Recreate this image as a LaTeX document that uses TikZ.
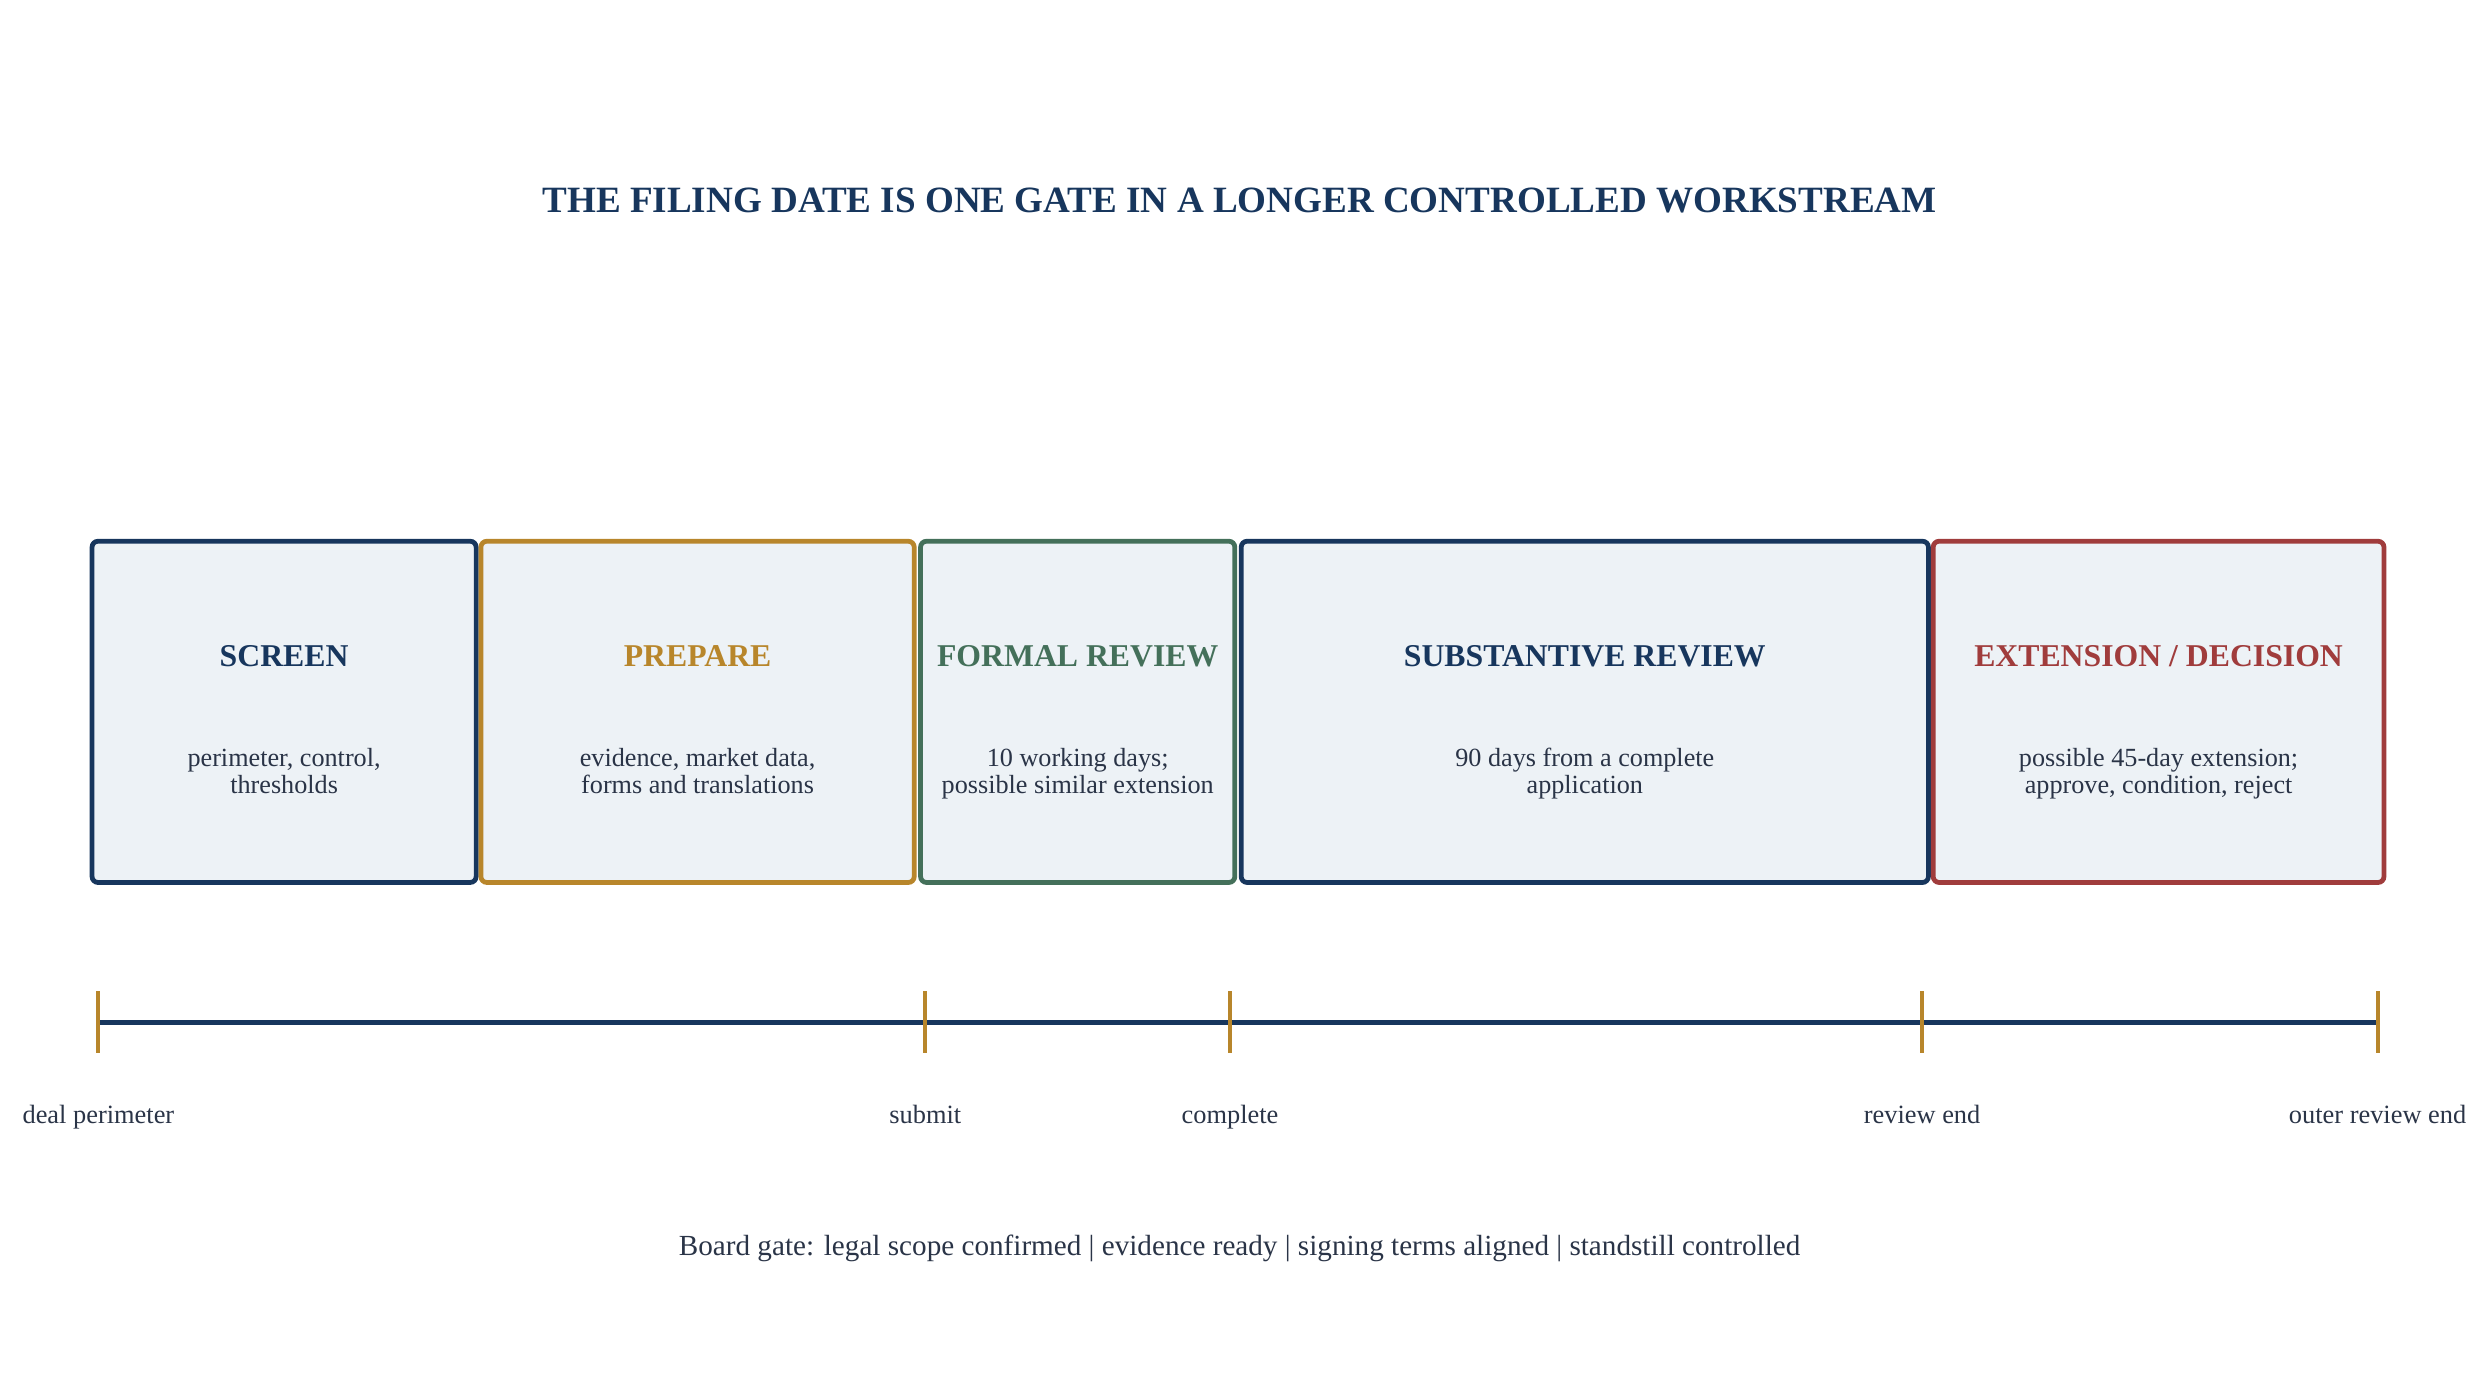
\documentclass[tikz,border=0pt]{standalone}
\usepackage{fontspec}
\setmainfont{Liberation Serif}
\definecolor{navy}{HTML}{17365D}
\definecolor{gold}{HTML}{B8862B}
\definecolor{sage}{HTML}{44705A}
\definecolor{brick}{HTML}{A03C3C}
\definecolor{paper}{HTML}{EDF2F6}
\definecolor{ink}{HTML}{2A3447}

\begin{document}
\begin{tikzpicture}[x=0.8pt,y=-0.8pt,
  phase/.style={draw=#1, line width=2.4pt, fill=paper, rounded corners=3pt},
  head/.style={text=#1, anchor=base, font=\fontsize{16}{19}\selectfont\bfseries},
  body/.style={text=ink, anchor=base, align=center, font=\fontsize{13.2}{13.6}\selectfont},
  gatelabel/.style={text=ink, anchor=base, font=\fontsize{13.3}{15}\selectfont}]

\useasboundingbox (0,0) rectangle (1560,873.3);

% title
\node[anchor=base, text=navy, font=\fontsize{18.7}{22}\selectfont\bfseries] (title) at (781,133.6)
  {THE FILING DATE IS ONE GATE IN A LONGER CONTROLLED WORKSTREAM};

% phases
\draw[phase=navy] (58,341) rectangle (300,556);
\draw[phase=gold] (303,341) rectangle (576,556);
\draw[phase=sage] (580,341) rectangle (778,556);
\draw[phase=navy] (782,341) rectangle (1215,556);
\draw[phase=brick] (1218,341) rectangle (1502,556);

\node[head=navy] (h1) at (179,419.7) {SCREEN};
\node[head=gold] (h2) at (439.5,419.7) {PREPARE};
\node[head=sage] (h3) at (679,419.7) {FORMAL REVIEW};
\node[head=navy] (h4) at (998.5,419.7) {SUBSTANTIVE REVIEW};
\node[head=brick] (h5) at (1360,419.7) {EXTENSION / DECISION};

% body text, base is the second line
\node[body] (b1) at (179,500) {perimeter, control,\\thresholds};
\node[body] (b2) at (439.5,500) {evidence, market data,\\forms and translations};
\node[body] (b3) at (679,500) {10 working days;\\possible similar extension};
\node[body] (b4) at (998.5,500) {90 days from a complete\\application};
\node[body] (b5) at (1360,500) {possible 45-day extension;\\approve, condition, reject};

% timeline
\coordinate (t0) at (62,644);
\coordinate (t4) at (1498,644);
\draw[navy, line width=2.5pt] (t0) -- (t4);

\foreach \x/\n/\lbl in {62/0/deal perimeter, 583/1/submit, 775/2/complete, 1211/3/review end, 1498/4/outer review end} {
	\draw[gold, line width=2pt] (\x,624.5) -- (\x,663.5);
	\node[gatelabel] (m\n) at (\x,708) {\lbl};
}

\node[anchor=base, text=ink, font=\fontsize{14.7}{17}\selectfont] (gate) at (781,791)
  {Board gate: legal scope confirmed | evidence ready | signing terms aligned | standstill controlled};
\end{tikzpicture}
\end{document}
